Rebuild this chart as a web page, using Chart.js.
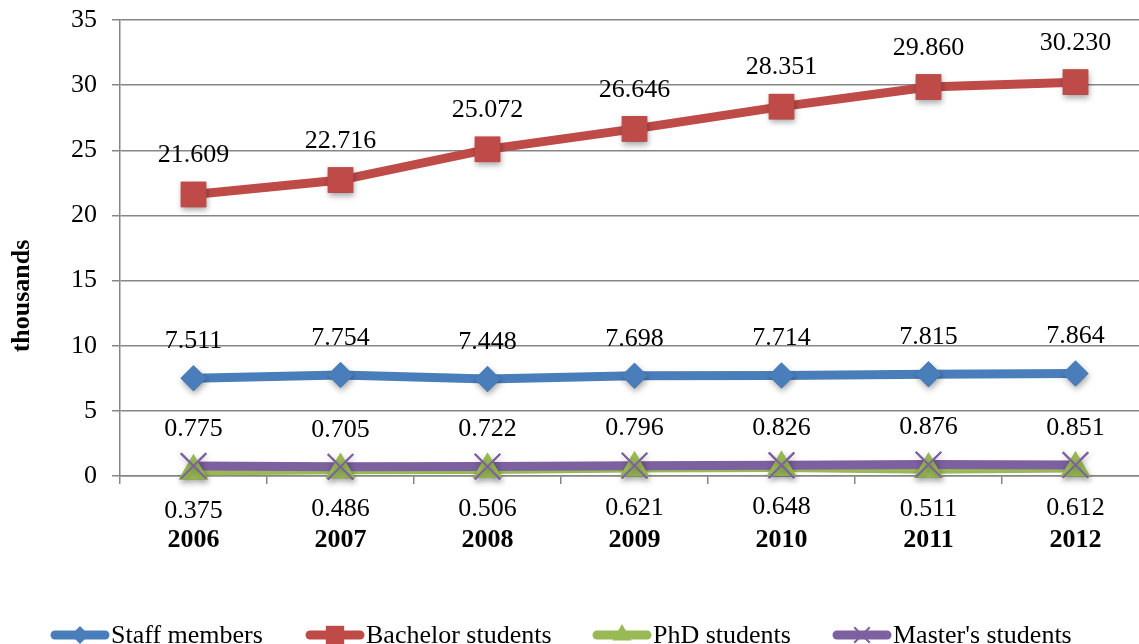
<!DOCTYPE html>
<html>
<head>
<meta charset="utf-8">
<script src="https://cdn.jsdelivr.net/npm/chart.js@4.4.1/dist/chart.umd.min.js"></script>
<style>
  html, body { margin: 0; padding: 0; overflow: hidden; background: #fff; }
  canvas { display: block; }
</style>
</head>
<body>
<canvas id="chart" width="1169" height="644"></canvas>
<script>
// Headcounts in thousands, per year
const years = ['2006', '2007', '2008', '2009', '2010', '2011', '2012'];
const staffMembers     = [7.511, 7.754, 7.448, 7.698, 7.714, 7.815, 7.864];
const bachelorStudents = [21.609, 22.716, 25.072, 26.646, 28.351, 29.860, 30.230];
const phdStudents      = [0.375, 0.486, 0.506, 0.621, 0.648, 0.511, 0.612];
const mastersStudents  = [0.775, 0.705, 0.722, 0.796, 0.826, 0.876, 0.851];

const yMin = 0, yMax = 35, yStep = 5;
const yAxisTitle = 'thousands';

const SERIF = "'Liberation Serif', 'Times New Roman', Times, serif";
const GRID = '#868686';

// Per-series look: colour, marker, label placement (above / below the point)
const seriesStyle = [
  { label: 'Staff members',     data: staffMembers,     color: '#4A7EBB', style: 'rectRot',  radius: 13, labelDy: -37, legendRadius: 9 },
  { label: 'Bachelor students', data: bachelorStudents, color: '#BE4B48', style: 'rect',     radius: 18, labelDy: -39, legendRadius: 13 },
  { label: 'PhD students',      data: phdStudents,      color: '#98B954', style: 'triangle', radius: 17, labelDy: 40,  legendRadius: 11 },
  { label: "Master's students", data: mastersStudents,  color: '#7D60A0', style: 'crossRot', radius: 18, labelDy: -37, legendRadius: 11 }
];

const datasets = seriesStyle.map((s, i) => ({
  label: s.label,
  data: s.data,
  borderColor: s.color,
  backgroundColor: s.color,
  borderWidth: 9,
  tension: 0,
  pointStyle: s.style,
  pointRadius: s.radius,
  pointHoverRadius: s.radius,
  pointBackgroundColor: s.color,
  pointBorderColor: s.color,
  pointBorderWidth: s.style === 'crossRot' ? 2 : 0,
  order: seriesStyle.length - i,
  clip: false
}));

// Markers above all lines (with soft shadow), then value labels
const markersAndLabels = {
  id: 'markersAndLabels',
  afterDatasetsDraw(chart) {
    const ctx = chart.ctx;
    seriesStyle.forEach((s, i) => {
      const meta = chart.getDatasetMeta(i);
      ctx.save();
      ctx.shadowColor = 'rgba(0,0,0,0.35)';
      ctx.shadowBlur = 6;
      ctx.shadowOffsetX = 1;
      ctx.shadowOffsetY = 3;
      meta.data.forEach(p => p.draw(ctx));
      ctx.restore();
    });
    ctx.save();
    ctx.font = '26px ' + SERIF;
    ctx.fillStyle = '#000';
    ctx.textAlign = 'center';
    ctx.textBaseline = 'middle';
    seriesStyle.forEach((s, i) => {
      const meta = chart.getDatasetMeta(i);
      meta.data.forEach((p, j) => {
        ctx.fillText(s.data[j].toFixed(3), p.x, p.y + s.labelDy);
      });
    });
    ctx.restore();
  }
};

function drawMarker(ctx, style, r, x, y, color) {
  ctx.save();
  ctx.fillStyle = color;
  ctx.strokeStyle = color;
  if (Chart.helpers && Chart.helpers.drawPoint) {
    Chart.helpers.drawPoint(ctx, { pointStyle: style, radius: r, rotation: 0, borderWidth: style === 'crossRot' ? 2 : 0 }, x, y);
  }
  ctx.restore();
}

// Axis title and a legend with line-and-marker swatches
const titleAndLegend = {
  id: 'titleAndLegend',
  afterDraw(chart, args, opts) {
    const ctx = chart.ctx;
    ctx.save();
    ctx.translate(22, 296);
    ctx.rotate(-Math.PI / 2);
    ctx.font = 'bold 26px ' + SERIF;
    ctx.fillStyle = '#000';
    ctx.textAlign = 'center';
    ctx.textBaseline = 'middle';
    ctx.fillText(yAxisTitle, 0, 0);
    ctx.restore();

    const y = opts.y;
    seriesStyle.forEach((s, i) => {
      const x = opts.x[i];
      ctx.save();
      ctx.strokeStyle = s.color;
      ctx.lineWidth = 9;
      ctx.lineCap = 'round';
      ctx.beginPath();
      ctx.moveTo(x + 4, y);
      ctx.lineTo(x + opts.swatch - 4, y);
      ctx.stroke();
      ctx.restore();
      drawMarker(ctx, s.style, s.legendRadius, x + opts.swatch / 2, y, s.color);
      ctx.save();
      ctx.font = '26px ' + SERIF;
      ctx.fillStyle = '#000';
      ctx.textAlign = 'left';
      ctx.textBaseline = 'alphabetic';
      ctx.fillText(s.label, x + opts.swatch + 2, y + 8);
      ctx.restore();
    });
  }
};

new Chart(document.getElementById('chart'), {
  type: 'line',
  data: { labels: years, datasets },
  plugins: [markersAndLabels, titleAndLegend],
  options: {
    responsive: false,
    animation: false,
    devicePixelRatio: 1,
    layout: { padding: { top: 20, right: 0, bottom: 88, left: 0 } },
    font: { family: SERIF },
    plugins: {
      legend: { display: false },
      tooltip: { enabled: false },
      titleAndLegend: { x: [51, 306, 593, 833], y: 635, swatch: 58 }
    },
    scales: {
      x: {
        offset: true,
        grid: { offset: true, drawOnChartArea: false, drawTicks: true, tickLength: 8, color: GRID, lineWidth: 1.5 },
        border: { color: GRID, width: 1.5 },
        ticks: { padding: 41, color: '#000', maxRotation: 0, font: { family: SERIF, size: 26, weight: 'bold' } },
        afterFit(scale) { scale.height = 80; scale.paddingLeft = 0; scale.paddingRight = 0; }
      },
      y: {
        min: yMin,
        max: yMax,
        ticks: { stepSize: yStep, padding: 15, color: '#000', font: { family: SERIF, size: 26 } },
        grid: { color: GRID, lineWidth: 1.5, tickLength: 8, drawTicks: true },
        border: { color: GRID, width: 1.5 },
        afterFit(scale) { scale.width = 120; scale.paddingTop = 0; scale.paddingBottom = 0; }
      }
    }
  }
});
</script>
</body>
</html>
